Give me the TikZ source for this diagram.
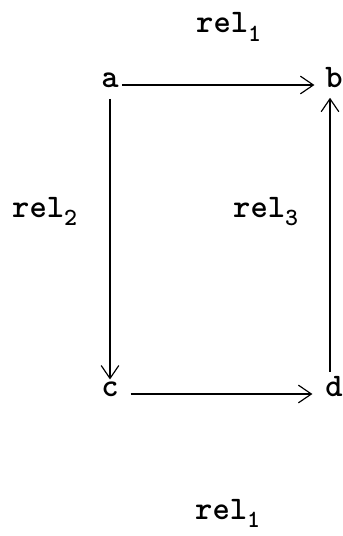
\documentclass[tikz,border=0pt]{standalone}
\usetikzlibrary{arrows.meta}
\tikzset{
    obj/.style={font=\ttfamily\bfseries\fontsize{28}{32}\selectfont, text height=0.43em, text depth=0pt, inner sep=2.5pt},
    rellabel/.style={font=\ttfamily\bfseries\fontsize{28}{32}\selectfont, inner sep=0pt, anchor=base west},
    arr/.style={-{Straight Barb[length=11pt,width=15pt]}, line width=1pt}}
\newcommand{\relname}[1]{rel\raisebox{-7.5pt}{\fontsize{21}{21}\selectfont #1}}

\begin{document}
\begin{tikzpicture}[x=0.85pt, y=-0.85pt]
        \useasboundingbox (0,0) rectangle (343,536);

            \node[obj] (a) at (110,85) {a};
            \node[obj] (b) at (334,85) {b};
            \node[obj] (c) at (110,394) {c};
            \node[obj] (d) at (334,394) {d};

            \node[rellabel] (r1top) at (196,33) {\relname{1}};
            \node[rellabel] (r2) at (12,217) {\relname{2}};
            \node[rellabel] (r3) at (233,217) {\relname{3}};
            \node[rellabel] (r1bot) at (195,519) {\relname{1}};

            \draw[arr, shorten >=6.6pt] (a) -- (b);
            \draw[arr, shorten <=7pt, shorten >=7.5pt] (a) -- (c);
            \draw[arr, shorten <=7.5pt, shorten >=8.3pt] (c) -- (d);
            \draw[arr, shorten <=13.9pt, shorten >=6pt] ([xshift=-3.4pt]d.north) -- ([xshift=-3.4pt]b.south);

        \end{tikzpicture}
\end{document}
